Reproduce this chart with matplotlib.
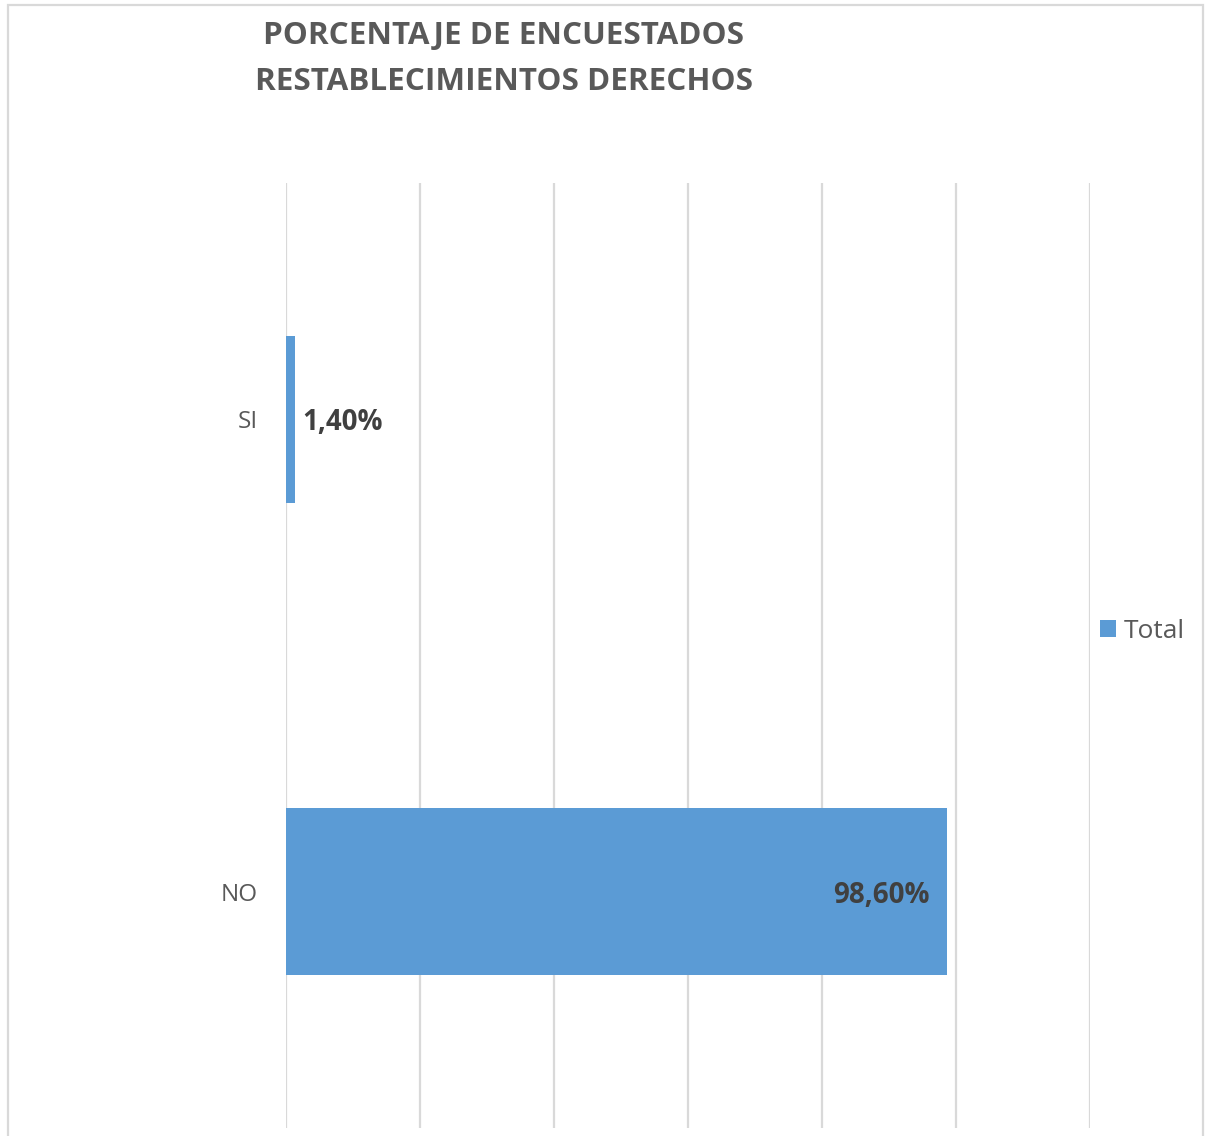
#!/usr/bin/env python3
"""Horizontal bar: porcentaje de encuestados, restablecimiento de derechos."""

import matplotlib
matplotlib.use("Agg")
import matplotlib.pyplot as plt
from matplotlib.patches import Rectangle
import matplotlib.ticker as mticker

CATEGORIES = ["NO", "SI"]
VALUES = [0.986, 0.014]
VALUE_LABELS = ["98,60%", "1,40%"]
SERIES_NAME = "Total"
TITLE = "PORCENTAJE DE ENCUESTADOS\nRESTABLECIMIENTOS DERECHOS"

BAR_COLOR = "#5B9BD5"
GRID_COLOR = "#D9D9D9"
TEXT_COLOR = "#595959"
LABEL_COLOR = "#404040"

plt.rcParams["font.family"] = ["Open Sans", "DejaVu Sans"]

fig = plt.figure(figsize=(12.05, 11.36), dpi=100)
ax = fig.add_axes([0.2373, 0.007, 0.6673, 0.832])

y = list(range(len(CATEGORIES)))
bars = ax.barh(y, VALUES, height=0.353, color=BAR_COLOR, label=SERIES_NAME, zorder=3)

ax.set_xlim(0, 1.2)
ax.set_ylim(-0.5, 1.5)
ax.xaxis.set_major_locator(mticker.MultipleLocator(0.2))
ax.grid(True, axis="x", color=GRID_COLOR, linewidth=1.6, zorder=0)
ax.tick_params(axis="x", length=0, labelbottom=False)
ax.tick_params(axis="y", length=0, pad=20, labelsize=17.5, labelcolor=TEXT_COLOR)
ax.set_yticks(y)
ax.set_yticklabels(CATEGORIES)
for s in ax.spines.values():
    s.set_visible(False)

for yi, v, lab in zip(y, VALUES, VALUE_LABELS):
    if v > 0.5:
        ax.text(v - 0.025, yi, lab, ha="right", va="center_baseline", fontsize=20,
                fontweight="bold", color=LABEL_COLOR, zorder=4)
    else:
        ax.text(v + 0.01, yi, lab, ha="left", va="center_baseline", fontsize=20,
                fontweight="bold", color=LABEL_COLOR, zorder=4)

fig.text(0.418, 0.948, TITLE, ha="center", va="center", fontsize=22.6,
         fontweight="bold", color=TEXT_COLOR, linespacing=1.68)

fig.legend(handles=[bars], labels=[SERIES_NAME], loc="center left",
           bbox_to_anchor=(0.9129, 0.4445), frameon=False, fontsize=19,
           handlelength=0.6, handleheight=0.6, handletextpad=0.3,
           borderpad=0, borderaxespad=0, labelcolor=TEXT_COLOR)

fig.patches.append(Rectangle((8 / 1205, -0.05), 1195 / 1205, 1.05 - 5 / 1136,
                             transform=fig.transFigure, fill=False,
                             edgecolor=GRID_COLOR, linewidth=1.6))

fig.savefig("out.png", dpi=100)
